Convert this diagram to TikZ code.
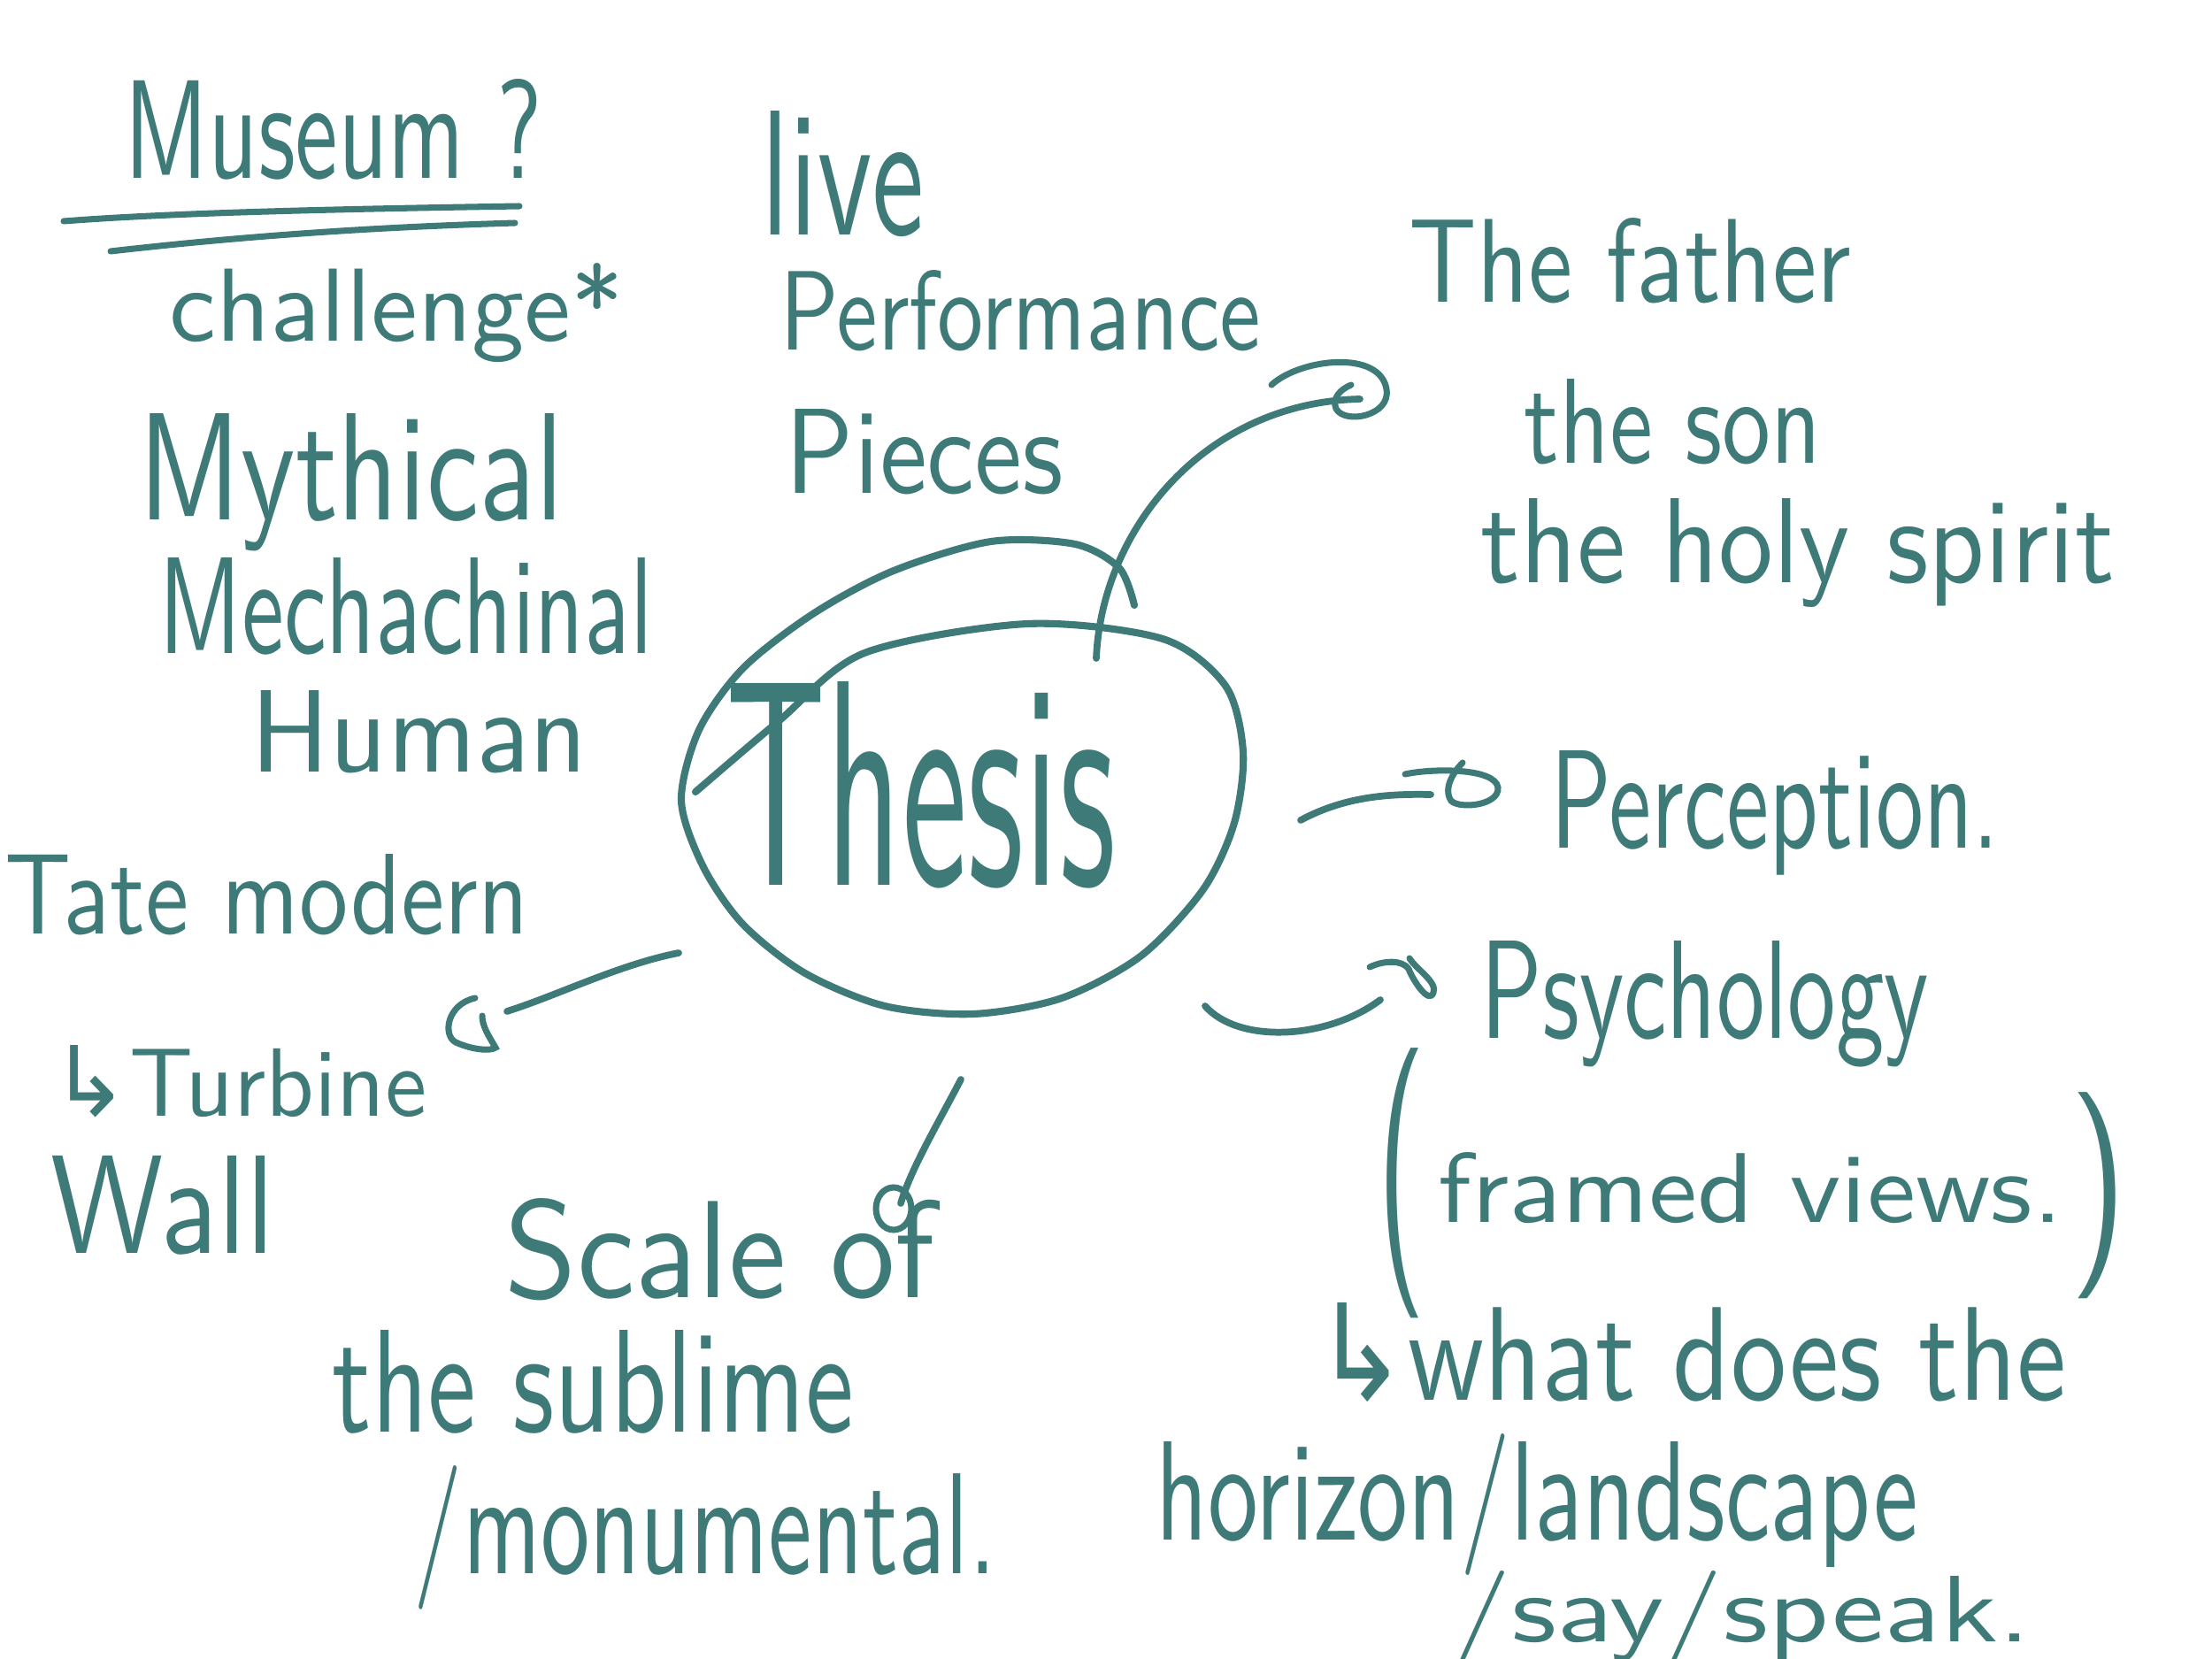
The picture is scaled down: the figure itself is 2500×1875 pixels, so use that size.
\documentclass[tikz,border=0pt]{standalone}
\usepackage{fontspec}
\usepackage{graphicx}
\usetikzlibrary{calc}
\newfontfamily\symf{DejaVu Sans}
\definecolor{ink}{RGB}{62,122,120}
\newcommand\hw[3]{\resizebox{#1}{#2}{\sffamily #3}}
\newcommand\hwt[3]{\resizebox*{#1}{#2}{\sffamily #3}}
\begin{document}
\begin{tikzpicture}[x=0.1mm,y=-0.1mm,
  lbl/.style={anchor=base west, inner sep=0pt, text=ink},
  conn/.style={draw=ink, line width=2.2pt, line cap=round},
  tipl/.style={draw=ink, line width=2pt, line cap=round},
  deco/.style={draw=ink, line width=2pt, line cap=round}]
\useasboundingbox (0,0) rectangle (2500,1875);
\fill[white] (0,0) rectangle (2500,1875);

% ---- top-left list ----
\node[lbl] (museum) at (140,202) {\hw{4.72cm}{1.12cm}{Museum ?}};
\draw[deco] (72,250) .. controls (200,240) and (400,236) .. (587,233);
\draw[deco] (125,284) .. controls (300,264) and (450,256) .. (582,252);
\node[lbl] (challenge) at (191,386) {\hw{5.13cm}{0.88cm}{challenge*}};
\node[lbl] (mythical) at (156,588) {\hw{4.8cm}{1.2cm}{Mythical}};
\node[lbl] (mech) at (179,738) {\hw{5.58cm}{1.08cm}{Mechachinal}};
\node[lbl] (human) at (283,872) {\hw{3.8cm}{0.92cm}{Human}};

% ---- left ----
\node[lbl] (tate) at (5,1055) {\hw{5.92cm}{0.9cm}{Tate modern}};
\node[lbl] (turbine) at (57,1261) {\hw{4.25cm}{0.8cm}{{\symf ↳}Turbine}};
\node[lbl] (wall) at (57,1416) {\hw{2.53cm}{1.1cm}{Wall}};

% ---- bottom-left ----
\node[lbl] (scale) at (570,1466) {\hw{4.86cm}{1.12cm}{Scale of}};
\node[lbl] (sublime) at (375,1618) {\hw{5.89cm}{1.15cm}{the sublime}};
\node[lbl] (monu) at (467,1778) {\hw{6.58cm}{1.22cm}{/monumental.}};

% ---- top-middle ----
\node[lbl] (live) at (860,266) {\hw{1.84cm}{1.4cm}{live}};
\node[lbl] (perf) at (881,396) {\hw{5.43cm}{0.9cm}{Performance}};
\node[lbl] (pieces) at (887,557) {\hw{3.14cm}{0.95cm}{Pieces}};

% ---- top-right ----
\node[lbl] (father) at (1592,342) {\hw{4.99cm}{0.95cm}{The father}};
\node[lbl] (son) at (1722,524) {\hw{3.36cm}{0.95cm}{the son}};
\node[lbl] (spirit) at (1673,658) {\hw{7.16cm}{0.95cm}{the holy spirit}};

% ---- right ----
\node[lbl] (perception) at (1752,958) {\hw{5.07cm}{1.1cm}{Perception.}};
\node[lbl] (psych) at (1673,1173) {\hw{5.06cm}{1.1cm}{Psychology}};
\node[anchor=north west, inner sep=0pt, text=ink] (lpar) at (1556,1184) {\hwt{0.55cm}{3.05cm}{(}};
\node[lbl] (framed) at (1625,1381) {\hw{7.06cm}{0.79cm}{framed views.}};
\node[anchor=north east, inner sep=0pt, text=ink] (rpar) at (2405,1234) {\hwt{0.65cm}{2.33cm}{)}};
\node[lbl] (what) at (1485,1582) {\hw{8.5cm}{1.1cm}{{\symf ↳}what does the}};
\node[lbl] (horizon) at (1306,1740) {\hw{8.61cm}{1.2cm}{horizon/landscape}};
\node[lbl] (say) at (1641,1855) {\hw{6.54cm}{0.8cm}{/say/speak.}};

% ---- centre ----
\draw[deco, line width=2.3pt] plot[smooth, tension=0.5] coordinates {
  (786,895) (880,815) (977,738) (1161,705) (1314,722) (1385,775) (1405,850) (1395,930)
  (1360,1005) (1290,1080) (1200,1128) (1100,1146) (1000,1137) (910,1100)
  (840,1045) (795,980) (770,905) (790,825) (840,755) (920,693)
  (1010,645) (1120,612) (1215,615) (1265,642) (1282,684)};
\node[lbl] (thesis) at (820,1000) {\hw{4.4cm}{2.3cm}{Thesis}};

% ---- connector anchor points ----
\coordinate (cF0) at (1239,744);   \coordinate (cF1) at (1537,451);
\coordinate (cP0) at (1470,927);   \coordinate (cP1) at (1617,898);
\coordinate (cY0) at (1362,1137);  \coordinate (cY1) at (1560,1130);
\coordinate (cT0) at (767,1077);   \coordinate (cT1) at (573,1143);
\coordinate (cS0) at (1086,1220);  \coordinate (cS1) at (1018,1360);

% Thesis -> The father
\draw[conn] (cF0) .. controls ($(cF0)+(6,-144)$) and ($(cF1)+(-177,4)$) .. (cF1);
\draw[tipl] ($(cF1)+(-100,-16)$) .. controls ($(cF1)+(-67,-46)$) and ($(cF1)+(23,-56)$) .. ($(cF1)+(30,-11)$)
  .. controls ($(cF1)+(35,19)$) and ($(cF1)+(-17,29)$) .. ($(cF1)+(-27,11)$)
  .. controls ($(cF1)+(-32,-1)$) and ($(cF1)+(-22,-11)$) .. ($(cF1)+(-10,-16)$);

% Thesis -> Perception
\draw[conn] (cP0) .. controls ($(cP0)+(50,-27)$) and ($(cP1)+(-47,-1)$) .. (cP1);
\draw[tipl] ($(cP1)+(-29,-23)$) .. controls ($(cP1)+(3,-30)$) and ($(cP1)+(73,-30)$) .. ($(cP1)+(76,-8)$)
  .. controls ($(cP1)+(78,12)$) and ($(cP1)+(33,17)$) .. ($(cP1)+(23,7)$)
  .. controls ($(cP1)+(13,-8)$) and ($(cP1)+(28,-28)$) .. ($(cP1)+(36,-36)$);

% Thesis -> Psychology
\draw[conn] (cY0) .. controls ($(cY0)+(38,43)$) and ($(cY1)+(-60,45)$) .. (cY1);
\draw[tipl] ($(cY1)+(-12,-37)$) .. controls ($(cY1)+(5,-45)$) and ($(cY1)+(25,-45)$) .. ($(cY1)+(32,-35)$)
  .. controls ($(cY1)+(38,-20)$) and ($(cY1)+(55,5)$) .. ($(cY1)+(60,-8)$)
  .. controls ($(cY1)+(65,-20)$) and ($(cY1)+(40,-35)$) .. ($(cY1)+(33,-47)$);

% Thesis -> Tate modern
\draw[conn] (cT0) .. controls ($(cT0)+(-67,13)$) and ($(cT1)+(57,-18)$) .. (cT1);
\draw[tipl] ($(cT1)+(-36,-15)$) .. controls ($(cT1)+(-68,-8)$) and ($(cT1)+(-73,27)$) .. ($(cT1)+(-58,35)$)
  .. controls ($(cT1)+(-38,44)$) and ($(cT1)+(-18,45)$) .. ($(cT1)+(-13,41)$)
  .. controls ($(cT1)+(-21,27)$) and ($(cT1)+(-28,17)$) .. ($(cT1)+(-28,5)$);

% Thesis -> Scale of
\draw[conn] (cS0) .. controls ($(cS0)+(-26,50)$) and ($(cS1)+(12,-40)$) .. (cS1);
\draw[tipl] ($(cS1)+(-8,6)$) ellipse [x radius=20, y radius=24];
\end{tikzpicture}
\end{document}
